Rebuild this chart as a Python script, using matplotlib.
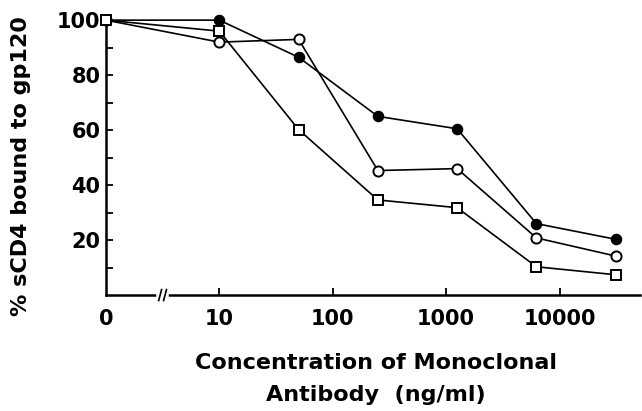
import numpy as np
import matplotlib
matplotlib.use("Agg")
import matplotlib.pyplot as plt
from matplotlib.transforms import blended_transform_factory

plt.rcParams['font.family'] = ['DejaVu Sans']
plt.rcParams['font.weight'] = 'bold'

# concentration of monoclonal antibody (ng/ml), 0 drawn one decade left of 10
conc = [0, 10, 50, 250, 1250, 6250, 31250]
filled_circle = [100, 100, 86.5, 65, 60.5, 26, 20.3]
open_circle = [100, 92, 93, 45.3, 46, 20.8, 14.2]
open_square = [100, 96, 60.2, 34.6, 31.8, 10.3, 7.4]

xticks = [1, 10, 100, 1000, 10000]
xticklabels = ['0', '10', '100', '1000', '10000']
yticks = [20, 40, 60, 80, 100]

x = np.array(conc, dtype=float)
x[x == 0] = 1

fig = plt.figure(figsize=(6.42, 4.11), dpi=100)
ax = fig.add_axes([0.165, 0.282, 0.832, 0.669])

ms = 7.3
ax.plot(x, filled_circle, '-o', color='black', lw=1.2, ms=ms, mfc='black',
        mec='black', clip_on=False, zorder=3)
ax.plot(x, open_circle, '-o', color='black', lw=1.2, ms=ms, mfc='white',
        mec='black', mew=1.4, clip_on=False, zorder=3)
ax.plot(x, open_square, '-s', color='black', lw=1.2, ms=ms - 0.5, mfc='white',
        mec='black', mew=1.4, clip_on=False, zorder=3)

ax.set_xscale('log')
ax.set_xlim(1, 10 ** 4.71)
ax.set_ylim(0, 100)

ax.spines['top'].set_visible(False)
ax.spines['right'].set_visible(False)
ax.spines['left'].set_linewidth(1.8)
ax.spines['bottom'].set_linewidth(1.8)

ax.set_xticks(xticks)
ax.set_xticklabels(xticklabels)
ax.xaxis.set_minor_locator(matplotlib.ticker.NullLocator())
ax.set_yticks(yticks)
ax.set_yticks([10, 30, 50, 70, 90], minor=True)

ax.tick_params(axis='both', which='major', direction='in', length=5, width=1.3,
               labelsize=15, pad=4)
ax.tick_params(axis='y', which='minor', direction='in', length=5, width=1.3)
ax.tick_params(axis='x', which='major', pad=10)
ax.xaxis.get_major_ticks()[0].tick1line.set_visible(False)

# axis break marks
trans = blended_transform_factory(ax.transData, ax.transAxes)
bx = 10 ** 0.5
ax.plot([bx * 0.93, bx * 1.07], [0, 0], color='white', lw=4,
        transform=trans, clip_on=False, zorder=4)
for f in (0.95, 1.05):
    ax.plot([bx * f / 1.03, bx * f * 1.03], [-0.02, 0.02], color='black',
            lw=1.2, transform=trans, clip_on=False, zorder=5)

ax.set_ylabel('% sCD4 bound to gp120', fontsize=16, fontweight='bold')
ax.yaxis.set_label_coords(-0.14, 0.47)
fig.text(0.586, 0.118, 'Concentration of Monoclonal', ha='center',
         va='center', fontsize=16, fontweight='bold')
fig.text(0.586, 0.039, 'Antibody  (ng/ml)', ha='center', va='center',
         fontsize=16, fontweight='bold')

fig.savefig('out.png', dpi=100)
